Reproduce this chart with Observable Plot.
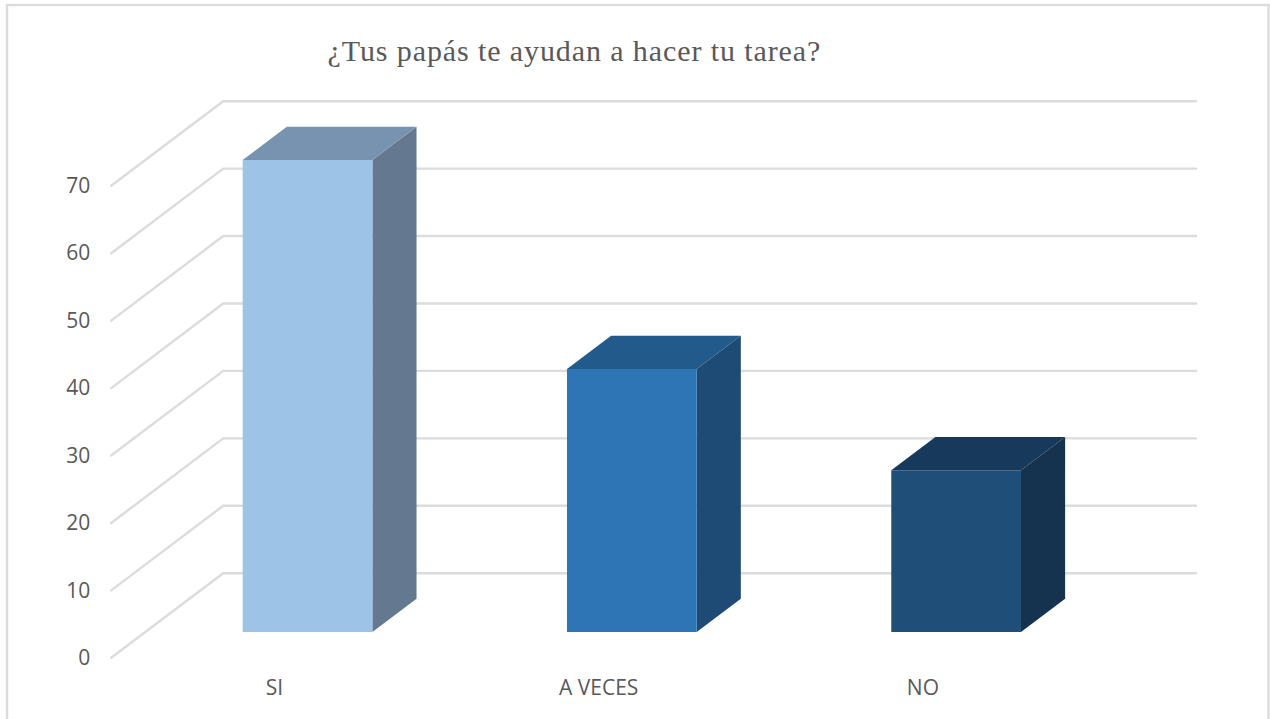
<!DOCTYPE html>
<html lang="es">
<head>
<meta charset="utf-8">
<script src="https://cdn.jsdelivr.net/npm/d3@7"></script>
<script src="https://cdn.jsdelivr.net/npm/@observablehq/plot@0.6"></script>
<style>
html,body{margin:0;padding:0;background:#fff;overflow:hidden}
svg{display:block}
</style>
</head>
<body>
<div id="chart"></div>
<script>
const title = "¿Tus papás te ayudan a hacer tu tarea?";
const categories = ["SI", "A VECES", "NO"];
const values = [70, 39, 24];
const yTicks = [0, 10, 20, 30, 40, 50, 60, 70];
const frontColors = ["#9DC3E6", "#2E75B6", "#1F4E79"];
const topColors = ["#7893B0", "#225A8B", "#173A5C"];
const sideColors = ["#64798F", "#1D4B76", "#15324F"];

// Oblique 3D projection, in data units: depth 0 is the axis plane, depth 1 the back wall.
const shiftX = 0.3454, shiftY = 12.546;
const barFront = 0.298, barBack = 0.692;
const barStart = 0.304, barEnd = 0.704;
const px = (u, d) => u + d * shiftX;
const py = (v, d) => v + d * shiftY;

const grid = yTicks.flatMap(v => [
  {v, x: px(0, 0), y: py(v, 0)},
  {v, x: px(0, 1), y: py(v, 1)},
  {v, x: px(categories.length, 1), y: py(v, 1)}
]);

const barMarks = categories.flatMap((c, i) => {
  const l = i + barStart, r = i + barEnd, h = values[i];
  return [
    // right side face
    Plot.areaY([
      {x: px(r, barFront), y1: py(0, barFront), y2: py(h, barFront)},
      {x: px(r, barBack), y1: py(0, barBack), y2: py(h, barBack)}
    ], {x: "x", y1: "y1", y2: "y2", fill: sideColors[i]}),
    // top face
    Plot.areaX([
      {y: py(h, barFront), x1: px(l, barFront), x2: px(r, barFront)},
      {y: py(h, barBack), x1: px(l, barBack), x2: px(r, barBack)}
    ], {y: "y", x1: "x1", x2: "x2", fill: topColors[i]}),
    // front face
    Plot.areaY([
      {x: px(l, barFront), y1: py(0, barFront), y2: py(h, barFront)},
      {x: px(r, barFront), y1: py(0, barFront), y2: py(h, barFront)}
    ], {x: "x", y1: "y1", y2: "y2", fill: frontColors[i]})
  ];
});

const chart = Plot.plot({
  width: 1270,
  height: 719,
  margin: 0,
  style: {background: "#fff"},
  x: {axis: null, domain: [-0.3414, 3.5748], range: [0, 1270]},
  y: {axis: null, domain: [-9.15, 97.48], range: [719, 0]},
  marks: [
    Plot.frame({stroke: "#DCDCDC", strokeWidth: 2.4, insetLeft: 6.5, insetTop: 4.5, insetRight: 2, insetBottom: -6}),
    Plot.line(grid, {x: "x", y: "y", z: "v", stroke: "#DCDCDC", strokeWidth: 2.4, strokeLinejoin: "miter"}),
    ...barMarks,
    Plot.text(yTicks, {
      x: () => px(0, 0), y: v => py(v, 0), text: v => String(v),
      textAnchor: "end", dx: -21, dy: 0.5, lineAnchor: "middle",
      fontFamily: "'Open Sans'", fontSize: 21, fill: "#595959"
    }),
    Plot.text(categories, {
      x: (c, i) => px(i + 0.5, 0), y: () => py(0, 0), text: c => c,
      textAnchor: "middle", dy: 30, dx: 1, lineAnchor: "middle",
      fontFamily: "'Open Sans'", fontSize: 21, fill: "#595959"
    }),
    Plot.text([title], {
      frameAnchor: "top-left", dx: 327, dy: 51, text: d => d,
      textAnchor: "start", lineAnchor: "middle",
      fontFamily: "'Liberation Serif'", fontSize: 30, fill: "#595959"
    })
  ]
});
d3.select(chart).selectAll("text").filter(function () { return this.textContent === title; }).style("letter-spacing", "0.9px");
document.getElementById("chart").appendChild(chart);
</script>
</body>
</html>
